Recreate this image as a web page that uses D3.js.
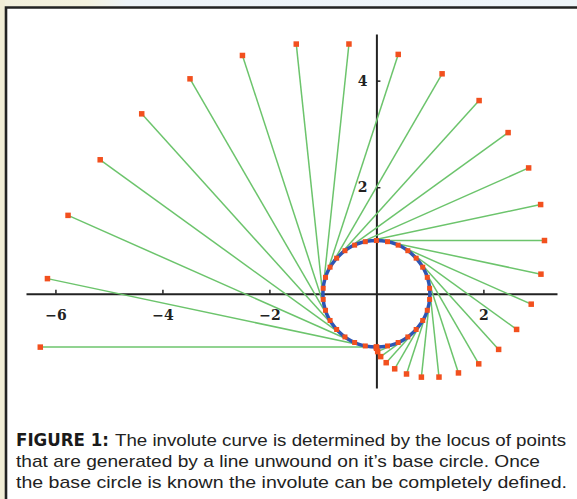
<!DOCTYPE html>
<html>
<head>
<meta charset="utf-8">
<script src="https://cdn.jsdelivr.net/npm/d3@7"></script>
<style>
  body { margin: 0; background: #fff; }
  svg { display: block; }
  .tick text { font-family: 'DejaVu Serif', 'Liberation Serif', serif; font-weight: bold; font-size: 14px; fill: #222; }
  .caption { font-family: 'Liberation Sans', Arial, sans-serif; font-size: 17px; fill: #222; }
  .caption-bold { font-family: 'DejaVu Sans Condensed', 'DejaVu Sans', sans-serif; font-weight: bold; font-size: 17px; fill: #1a1a1a; }
</style>
</head>
<body>
<svg width="577" height="499"></svg>
<script>
// points where the line leaves the base circle (every 12 deg of unwinding)
const tangentX = [0, 0.2079, 0.4067, 0.5878, 0.7431, 0.8660, 0.9511, 0.9945, 0.9945, 0.9511, 0.8660,
  0.7431, 0.5878, 0.4067, 0.2079, 0, -0.2079, -0.4067, -0.5878, -0.7431, -0.8660,
  -0.9511, -0.9945, -0.9945, -0.9511, -0.8660, -0.7431, -0.5878, -0.4067, -0.2079, 0];
const tangentY = [-1, -0.9781, -0.9135, -0.8090, -0.6691, -0.5, -0.3090, -0.1045, 0.1045, 0.3090, 0.5,
  0.6691, 0.8090, 0.9135, 0.9781, 1, 0.9781, 0.9135, 0.8090, 0.6691, 0.5,
  0.3090, 0.1045, -0.1045, -0.3090, -0.5, -0.6691, -0.8090, -0.9135, -0.9781, -1];

// end points of the unwound line (the involute)
const involuteX = [0, 0.003, 0.024, 0.080, 0.183, 0.342, 0.563, 0.841, 1.170, 1.534, 1.913,
  2.285, 2.621, 2.894, 3.076, 3.142, 3.070, 2.846, 2.462, 1.920, 1.228,
  0.408, -0.513, -1.498, -2.504, -3.484, -4.387, -5.163, -5.764, -6.149, -6.283];
const involuteY = [-1, -1.022, -1.084, -1.178, -1.292, -1.407, -1.504, -1.563, -1.562, -1.484, -1.314,
  -1.043, -0.668, -0.194, 0.369, 1, 1.675, 2.362, 3.025, 3.626, 4.128,
  4.492, 4.687, 4.686, 4.472, 4.034, 3.377, 2.515, 1.472, 0.285, -1];

const baseRadius = 1;
const xTicks = [-6, -4, -2, 2];
const yTicks = [2, 4];
const captionLines = [
  'The involute curve is determined by the locus of points',
  'that are generated by a line unwound on it\u2019s base circle. Once',
  'the base circle is known the involute can be completely defined.'
];

const svg = d3.select('svg');
const width = +svg.attr('width');
const height = +svg.attr('height');

// page background outside the frame
const defs = svg.append('defs');
const topGrad = defs.append('linearGradient').attr('id', 'topGrad');
topGrad.append('stop').attr('offset', '0%').attr('stop-color', '#f2efdc');
topGrad.append('stop').attr('offset', '15%').attr('stop-color', '#f3f1de');
topGrad.append('stop').attr('offset', '22%').attr('stop-color', '#edf3f8');
topGrad.append('stop').attr('offset', '100%').attr('stop-color', '#eef4f9');
svg.append('rect').attr('width', width).attr('height', 7).attr('fill', 'url(#topGrad)');
svg.append('rect').attr('width', 5).attr('height', height).attr('fill', '#f1edd6');

// frame
svg.append('path')
  .attr('d', `M6,${height} V7.5 H${width}`)
  .attr('fill', 'none')
  .attr('stroke', '#222')
  .attr('stroke-width', 2.6);

const xScale = d3.scaleLinear().domain([-6.55, 3.376]).range([26, 557]);
const yScale = d3.scaleLinear().domain([-1.767, 4.875]).range([388, 34]);

const tickFmt = d => d < 0 ? '\u2212' + Math.abs(d) : String(d);

// axes
svg.append('g')
  .attr('transform', `translate(0,${yScale(0)})`)
  .call(d3.axisBottom(xScale)
    .tickValues(xTicks)
    .tickSizeInner(-4)
    .tickSizeOuter(0)
    .tickPadding(16)
    .tickFormat(tickFmt));

svg.append('g')
  .attr('transform', `translate(${xScale(0)},0)`)
  .call(d3.axisLeft(yScale)
    .tickValues(yTicks)
    .tickSizeInner(-4)
    .tickSizeOuter(0)
    .tickPadding(9)
    .tickFormat(tickFmt));

svg.selectAll('.domain').attr('stroke', '#222').attr('stroke-width', 2);
svg.selectAll('.tick line').attr('stroke', '#222').attr('stroke-width', 1.5);

const idx = d3.range(tangentX.length);

// unwound lines
svg.append('g')
  .selectAll('line')
  .data(idx).enter()
  .append('line')
    .attr('x1', i => xScale(tangentX[i]))
    .attr('y1', i => yScale(tangentY[i]))
    .attr('x2', i => xScale(involuteX[i]))
    .attr('y2', i => yScale(involuteY[i]))
    .attr('stroke', '#6cc46c')
    .attr('stroke-width', 1.5);

// base circle
svg.append('ellipse')
  .attr('cx', xScale(0))
  .attr('cy', yScale(0))
  .attr('rx', xScale(baseRadius) - xScale(0))
  .attr('ry', yScale(0) - yScale(baseRadius))
  .attr('fill', 'none')
  .attr('stroke', '#2d55b4')
  .attr('stroke-width', 3.5);

// markers
const sqIn = 5, sqOut = 5.5;
svg.append('g')
  .selectAll('rect')
  .data(idx).enter()
  .append('rect')
    .attr('x', i => xScale(tangentX[i]) - sqIn / 2)
    .attr('y', i => yScale(tangentY[i]) - sqIn / 2)
    .attr('width', sqIn)
    .attr('height', sqIn)
    .attr('fill', '#f2501e');

svg.append('g')
  .selectAll('rect')
  .data(idx).enter()
  .append('rect')
    .attr('x', i => xScale(involuteX[i]) - sqOut / 2)
    .attr('y', i => yScale(involuteY[i]) - sqOut / 2)
    .attr('width', sqOut)
    .attr('height', sqOut)
    .attr('fill', '#f2501e');

// caption
svg.append('text')
  .attr('class', 'caption-bold')
  .attr('x', 16).attr('y', 446)
  .attr('textLength', 93).attr('lengthAdjust', 'spacingAndGlyphs')
  .text('FIGURE 1:');

svg.append('text')
  .attr('class', 'caption')
  .attr('x', 115).attr('y', 446)
  .attr('textLength', 451).attr('lengthAdjust', 'spacingAndGlyphs')
  .text(captionLines[0]);

svg.append('text')
  .attr('class', 'caption')
  .attr('x', 16).attr('y', 467)
  .attr('textLength', 524).attr('lengthAdjust', 'spacingAndGlyphs')
  .text(captionLines[1]);

svg.append('text')
  .attr('class', 'caption')
  .attr('x', 16).attr('y', 488)
  .attr('textLength', 551).attr('lengthAdjust', 'spacingAndGlyphs')
  .text(captionLines[2]);
</script>
</body>
</html>
